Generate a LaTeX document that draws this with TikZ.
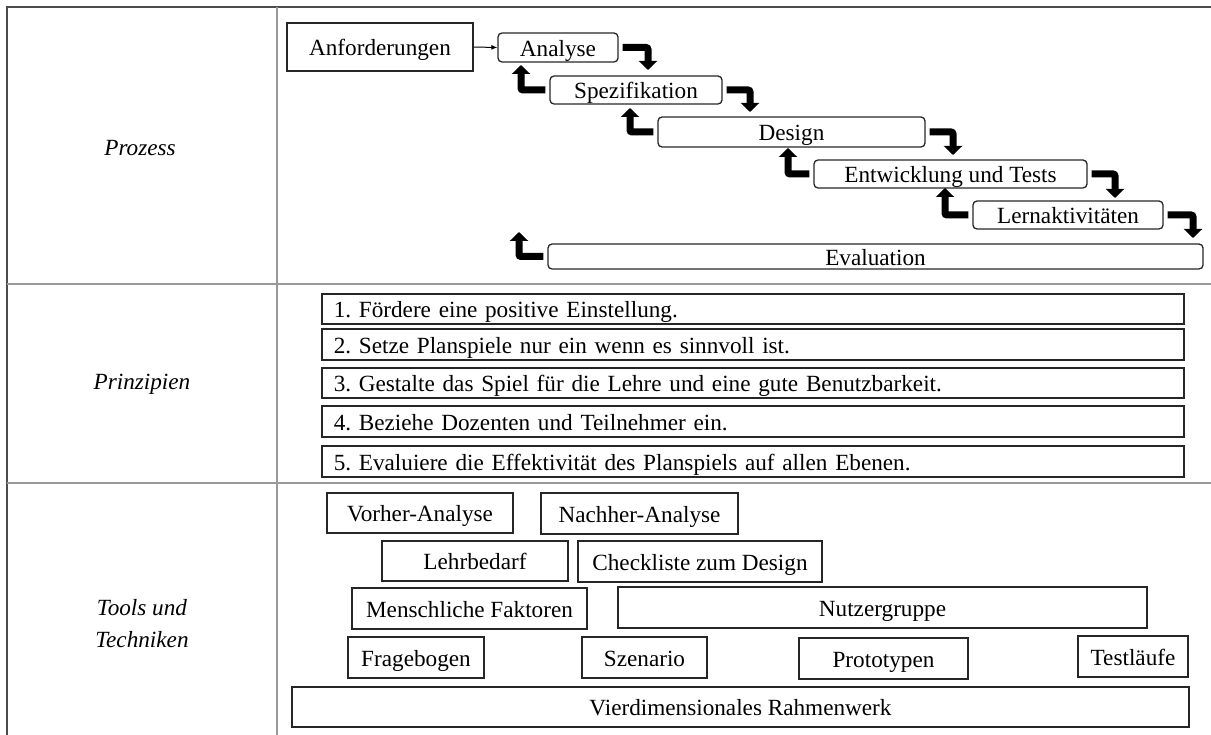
\documentclass[tikz,border=0pt]{standalone}
\usepackage{fontspec}
\setmainfont{Liberation Serif}
\usetikzlibrary{arrows.meta}
\frenchspacing
\begin{document}
\begin{tikzpicture}[x=1pt,y=-1pt,
  every node/.style={font=\fontsize{23.2pt}{32pt}\selectfont, inner sep=0pt},
  boxtext/.style={text height=19pt, text depth=1.5pt},
  sqbox/.style={boxtext, draw=black!85, line width=1.5pt},
  rndbox/.style={boxtext, draw=black!85, line width=1.3pt, rounded corners=4pt},
  prinbox/.style={boxtext, draw=black!85, line width=1.5pt, text width=838pt, inner xsep=12pt, align=left, anchor=west},
  bent/.style={line width=7pt, rounded corners=2pt, -{Triangle[width=18pt,length=9pt]}},
  rowlabel/.style={font=\fontsize{23.2pt}{32pt}\selectfont\itshape, align=center},
  outerline/.style={draw=black!70, line width=2pt},
  gridline/.style={draw=black!40, line width=1.5pt}
]
\useasboundingbox (0,0) rectangle (1211,735);

% table frame
\draw[outerline] (1211,7) -- (7,7) -- (7,735);
\draw[gridline] (277,7) -- (277,735);
\draw[gridline] (7,284) -- (1211,284);
\draw[gridline] (7,483) -- (1211,483);

% row labels
\node[rowlabel] (lproz) at (140,148) {Prozess};
\node[rowlabel] (lprin) at (142,384) {Prinzipien};
\node[rowlabel] (ltool) at (142,624) {Tools und\\Techniken};

% process phases
\node[sqbox, minimum width=186pt, minimum height=48pt] (anf) at (380,47) {Anforderungen};
\node[rndbox, minimum width=120pt, minimum height=29pt] (ana) at (558,47.5) {Analyse};
\node[rndbox, minimum width=172pt, minimum height=28pt] (spe) at (636,90) {Spezifikation};
\node[rndbox, minimum width=267pt, minimum height=30pt] (des) at (791.5,132) {Design};
\node[rndbox, minimum width=273pt, minimum height=28pt] (ent) at (950.5,174) {Entwicklung und Tests};
\node[rndbox, minimum width=190pt, minimum height=28pt] (ler) at (1068,215) {Lernaktivitäten};
\node[rndbox, minimum width=655pt, minimum height=25pt] (eva) at (875.5,256.5) {Evaluation};

\draw[line width=1pt, -{Latex[length=6pt,width=5pt]}] (anf.east) -- (ana.west);

% forward arrows
\coordinate (f1) at (648,70);
\coordinate (f2) at (750,112);
\coordinate (f3) at (953,155);
\coordinate (f4) at (1115,198);
\coordinate (f5) at (1193,238);
\draw[bent, shorten <=4pt] (ana.east) -| (f1);
\draw[bent, shorten <=4pt] (spe.east) -| (f2);
\draw[bent, shorten <=4pt] (des.east) -| (f3);
\draw[bent, shorten <=4pt] (ent.east) -| (f4);
\draw[bent, shorten <=4pt] (ler.east) -| (f5);

% backward arrows
\coordinate (b1) at (521,65);
\coordinate (b2) at (630,108);
\coordinate (b3) at (788,148);
\coordinate (b4) at (945,188);
\coordinate (b5) at (519,232);
\draw[bent, shorten <=4pt] (spe.west) -| (b1);
\draw[bent, shorten <=4pt] (des.west) -| (b2);
\draw[bent, shorten <=4pt] (ent.west) -| (b3);
\draw[bent, shorten <=4pt] (ler.west) -| (b4);
\draw[bent, shorten <=4pt] (eva.west) -| (b5);

% principles
\node[prinbox, minimum height=30pt] (p1) at (321,309) {1. Fördere eine positive Einstellung.};
\node[prinbox, minimum height=31pt] (p2) at (321,344.5) {2. Setze Planspiele nur ein wenn es sinnvoll ist.};
\node[prinbox, minimum height=30pt] (p3) at (321,383) {3. Gestalte das Spiel für die Lehre und eine gute Benutzbarkeit.};
\node[prinbox, minimum height=31pt] (p4) at (321,421.5) {4. Beziehe Dozenten und Teilnehmer ein.};
\node[prinbox, minimum height=31pt] (p5) at (321,461.5) {5. Evaluiere die Effektivität des Planspiels auf allen Ebenen.};

% tools and techniques
\node[sqbox, minimum width=186pt, minimum height=40pt] (vor) at (420,513) {Vorher-Analyse};
\node[sqbox, minimum width=197pt, minimum height=41pt] (nach) at (639.5,513.5) {Nachher-Analyse};
\node[sqbox, minimum width=186pt, minimum height=40pt] (lehr) at (475,561) {Lehrbedarf};
\node[sqbox, minimum width=244pt, minimum height=41pt] (check) at (700,561.5) {Checkliste zum Design};
\node[sqbox, minimum width=235pt, minimum height=41pt] (mensch) at (469.5,608.5) {Menschliche Faktoren};
\node[sqbox, minimum width=529pt, minimum height=41pt] (nutz) at (882.5,607.5) {Nutzergruppe};
\node[sqbox, minimum width=136pt, minimum height=41pt] (frage) at (416,657.5) {Fragebogen};
\node[sqbox, minimum width=125pt, minimum height=41pt] (szen) at (644.5,657.5) {Szenario};
\node[sqbox, minimum width=169pt, minimum height=41pt] (proto) at (883.5,658.5) {Prototypen};
\node[sqbox, minimum width=110pt, minimum height=41pt] (test) at (1133,656.5) {Testläufe};
\node[sqbox, minimum width=897pt, minimum height=40pt] (vier) at (740.5,707) {Vierdimensionales Rahmenwerk};
\end{tikzpicture}
\end{document}
